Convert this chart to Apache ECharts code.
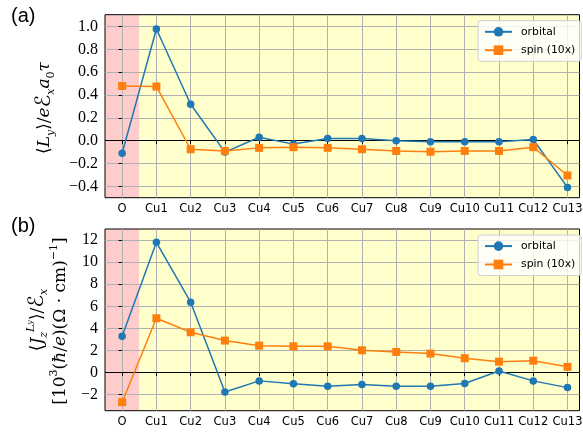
<!DOCTYPE html>
<html><head><meta charset="utf-8">
<script src="https://cdn.jsdelivr.net/npm/echarts@6/dist/echarts.min.js"></script>
<style>html,body{margin:0;padding:0;background:#fff}#c{width:583px;height:432px}</style>
</head><body><div id="c"></div>
<script>
const categories = ['O','Cu1','Cu2','Cu3','Cu4','Cu5','Cu6','Cu7','Cu8','Cu9','Cu10','Cu11','Cu12','Cu13'];
const orbitalA = [-0.11, 0.98, 0.32, -0.10, 0.03, -0.03, 0.02, 0.02, 0.00, -0.01, -0.01, -0.01, 0.01, -0.41];
const spinA = [0.48, 0.475, -0.075, -0.09, -0.063, -0.057, -0.063, -0.075, -0.09, -0.097, -0.09, -0.09, -0.057, -0.305];
const orbitalB = [3.3, 11.8, 6.37, -1.75, -0.75, -1.02, -1.23, -1.08, -1.23, -1.23, -0.99, 0.15, -0.75, -1.36];
const spinB = [-2.68, 4.92, 3.65, 2.9, 2.44, 2.38, 2.38, 2.02, 1.87, 1.72, 1.3, 0.99, 1.08, 0.52];
const yTicksA = [-0.4, -0.2, 0, 0.2, 0.4, 0.6, 0.8, 1.0];
const yTicksB = [-2, 0, 2, 4, 6, 8, 10, 12];
const seriesNames = ['orbital', 'spin (10x)'];

const BLUE = '#1f77b4', ORANGE = '#ff7f0e';
const xIdx = categories.map((c, i) => i);
const XMIN = -0.5, XMAX = 13.35;
const minus = s => String(s).replace('-', '\u2212');

function xAxis(gi) {
  return {
    gridIndex: gi, type: 'value', min: XMIN, max: XMAX, z: 1,
    axisLine: {show: false},
    axisTick: {show: true, customValues: xIdx, length: 3.5, lineStyle: {color: '#000', width: 1}},
    axisLabel: {customValues: xIdx, formatter: v => categories[Math.round(v)], color: '#000',
      fontFamily: 'DejaVu Sans', fontSize: 11.5, margin: 5},
    splitLine: {show: true, lineStyle: {color: '#b0b0b0', width: 1}}
  };
}
function yAxis(gi, min, max, ticks, fmt) {
  return {
    gridIndex: gi, type: 'value', min: min, max: max, z: 1,
    axisLine: {show: false},
    axisTick: {show: true, customValues: ticks, length: 3.5, lineStyle: {color: '#000', width: 1}},
    axisLabel: {customValues: ticks, formatter: fmt, color: '#000',
      fontFamily: 'Liberation Serif', fontSize: 16, margin: 7},
    splitLine: {show: true, lineStyle: {color: '#b0b0b0', width: 1}}
  };
}
function shade() {
  return {silent: true, z: 0, data: [
    [{xAxis: XMIN, itemStyle: {color: '#ffcccc'}}, {xAxis: 0.5}],
    [{xAxis: 0.5, itemStyle: {color: '#ffffcc'}}, {xAxis: XMAX}]
  ]};
}
function zeroLine() {
  return {silent: true, z: 1.5, symbol: ['none', 'none'], label: {show: false},
    lineStyle: {color: '#000', width: 1, type: 'solid'}, emphasis: {disabled: true},
    data: [{yAxis: 0}]};
}
function lineSeries(gi, name, vals, color, symbol, extra) {
  return Object.assign({
    type: 'line', name: name, xAxisIndex: gi, yAxisIndex: gi,
    data: vals.map((v, i) => [i, v]),
    symbol: symbol, symbolSize: symbol === 'circle' ? 7.5 : 8,
    showAllSymbol: true,
    lineStyle: {width: 1.5, color: color}, itemStyle: {color: color},
    z: 3, animation: false
  }, extra || {});
}
function legend(top) {
  return {
    orient: 'vertical', left: 478, top: top, data: seriesNames,
    itemWidth: 27, itemHeight: 12, itemGap: 7.4, padding: [5.6, 6, 5.6, 6],
    backgroundColor: 'rgba(255,255,255,0.8)', borderColor: '#d0d0d0', borderWidth: 1, borderRadius: 3,
    textStyle: {fontFamily: 'DejaVu Sans', fontSize: 10.8, color: '#000', padding: [0, 0, 0, 4]},
    selectedMode: false
  };
}
const serifN = {fontFamily: 'DejaVu Serif', fontSize: 17, lineHeight: 24, fill: '#000'};
const rich = {
  n: Object.assign({}, serifN),
  i: Object.assign({}, serifN, {fontStyle: 'italic'}),
  E: {fontFamily: 'DejaVu Sans', fontSize: 21, lineHeight: 24, fill: '#000'},
  s: {fontFamily: 'DejaVu Serif', fontStyle: 'italic', fontSize: 11, lineHeight: 13, verticalAlign: 'bottom'},
  s0: {fontFamily: 'DejaVu Serif', fontSize: 11, lineHeight: 13, verticalAlign: 'bottom'},
  p: {fontFamily: 'DejaVu Serif', fontSize: 11, lineHeight: 13, verticalAlign: 'top'},
  pi: {fontFamily: 'DejaVu Serif', fontStyle: 'italic', fontSize: 11, lineHeight: 13, verticalAlign: 'top'},
  pp: {fontFamily: 'DejaVu Serif', fontStyle: 'italic', fontSize: 8, lineHeight: 15, verticalAlign: 'top'}
};

const chart = echarts.init(document.getElementById('c'), null, {renderer: 'canvas'});
chart.setOption({
  animation: false,
  backgroundColor: '#fff',
  grid: [
    {left: 105, top: 14.7, width: 474.5, height: 183, show: true, borderColor: '#000', borderWidth: 1,
      backgroundColor: 'transparent', z: 1, outerBoundsMode: 'none'},
    {left: 105, top: 229, width: 474.5, height: 181.7, show: true, borderColor: '#000', borderWidth: 1,
      backgroundColor: 'transparent', z: 1, outerBoundsMode: 'none'}
  ],
  xAxis: [xAxis(0), xAxis(1)],
  yAxis: [
    yAxis(0, -0.5, 1.105, yTicksA, v => minus(v.toFixed(1))),
    yAxis(1, -3.45, 13.0, yTicksB, v => minus(v.toFixed(0)))
  ],
  legend: [legend(20.7), legend(235)],
  series: [
    lineSeries(0, seriesNames[0], orbitalA, BLUE, 'circle', {markArea: shade(), markLine: zeroLine()}),
    lineSeries(0, seriesNames[1], spinA, ORANGE, 'rect', {z: 4}),
    lineSeries(1, seriesNames[0], orbitalB, BLUE, 'circle', {markArea: shade(), markLine: zeroLine()}),
    lineSeries(1, seriesNames[1], spinB, ORANGE, 'rect', {z: 4})
  ],
  graphic: [
    {type: 'text', left: 11, top: 6, style: {text: '(a)', fontFamily: 'Liberation Sans', fontSize: 20, fill: '#000'}},
    {type: 'text', left: 11, top: 216, style: {text: '(b)', fontFamily: 'Liberation Sans', fontSize: 20, fill: '#000'}},
    {type: 'text', x: 45, y: 108, rotation: Math.PI / 2,
      style: {text: '{n|\u27E8}{i|L}{s|y}{n|\u27E9/}{i|e}{E|\u2130}{s|x}{i|a}{s0|0}{i|\u03C4}',
        rich: rich, align: 'center', verticalAlign: 'middle'}},
    {type: 'text', x: 38, y: 320, rotation: Math.PI / 2,
      style: {text: '{n|\u27E8}{i|J}{s|z}{pi|L}{pp|y}{n|\u27E9/}{E|\u2130}{s|x}',
        rich: rich, align: 'center', verticalAlign: 'middle'}},
    {type: 'text', x: 61, y: 321, rotation: Math.PI / 2,
      style: {text: '{n|[10}{p|3}{n|(}{i|\u0127}{n|/}{i|e}{n|)(\u03A9 \u00B7 cm)}{p|\u22121}{n|]}',
        rich: rich, align: 'center', verticalAlign: 'middle'}}
  ]
});
</script></body></html>
